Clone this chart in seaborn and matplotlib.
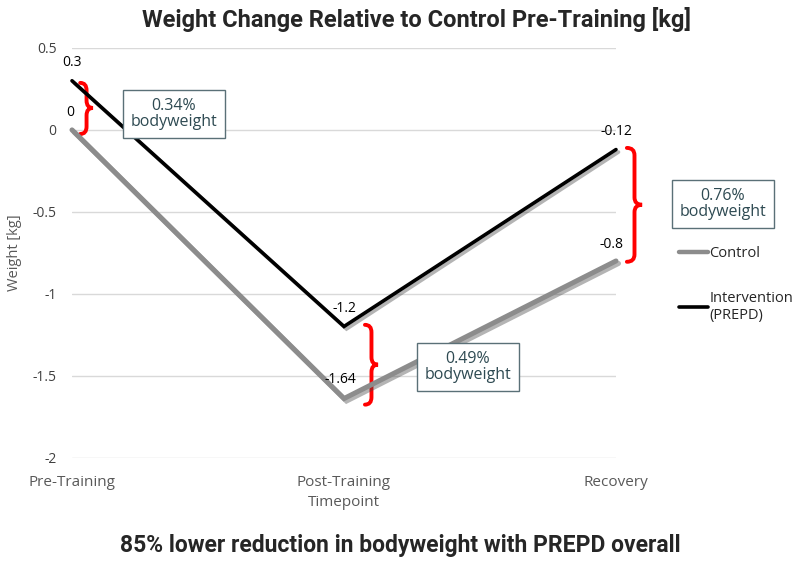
import matplotlib
matplotlib.use("Agg")
import matplotlib.pyplot as plt
import matplotlib.patheffects as pe
from matplotlib.path import Path
from matplotlib.patches import PathPatch
from matplotlib.lines import Line2D
import pandas as pd
import seaborn as sns

# data
timepoints = ['Pre-Training', 'Post-Training', 'Recovery']
control = [0, -1.64, -0.8]
intervention = [0.3, -1.2, -0.12]
groups = ['Control', 'Intervention\n(PREPD)']
box_texts = ['0.34%\nbodyweight', '0.49%\nbodyweight', '0.76%\nbodyweight']

df = pd.DataFrame({
    'Timepoint': timepoints * 2,
    'Weight': control + intervention,
    'group': [groups[0]] * 3 + [groups[1]] * 3,
})

sns.set_style('white')
plt.rcParams['font.family'] = ['Open Sans', 'DejaVu Sans']

fig = plt.figure(figsize=(8, 5.62), dpi=100)
ax = fig.add_axes([0.09, 0.185, 0.68, 0.7296])

shadow = [pe.SimpleLineShadow(offset=(1.8, -1.8), shadow_color='#444444', alpha=0.4), pe.Normal()]
sns.lineplot(data=df, x='Timepoint', y='Weight', hue='group', palette=['#8c8c8c', '#000000'],
             ax=ax, legend=False, sort=False)
ax.lines[0].set_linewidth(3.6)
ax.lines[1].set_linewidth(2.6)
for ln in ax.lines:
    ln.set_path_effects(shadow)
    ln.set_solid_joinstyle('miter')
    ln.set_clip_on(False)

ax.set_xlim(0, 2)
ax.set_ylim(-2.003, 0.5)
ax.set_yticks([0.5, 0, -0.5, -1, -1.5, -2])
ax.set_yticklabels(['0.5', '0', '-0.5', '-1', '-1.5', '-2'])
ax.yaxis.grid(True, color='#d9d9d9', linewidth=1)
ax.xaxis.grid(False)
for s in ax.spines.values():
    s.set_visible(False)
ax.tick_params(axis='y', length=0, pad=11, labelsize=10, labelcolor='#404040')
ax.tick_params(axis='x', length=0, pad=12, labelsize=11, labelcolor='#595959')
ax.set_ylabel('Weight [kg]', fontsize=10.5, color='#595959', labelpad=8)
ax.set_xlabel('Timepoint', fontsize=11, color='#595959', labelpad=4)

# data labels
for i, v in enumerate(intervention):
    ax.annotate(f'{v:g}', (i, v), xytext=(0, 18), textcoords='offset pixels',
                ha='center', va='center', fontsize=10, color='#000000', annotation_clip=False)
ctrl_off = [(-2, 17), (-4, 19), (-4, 16)]
for i, v in enumerate(control):
    ax.annotate(f'{v:g}', (i, v), xytext=ctrl_off[i], textcoords='offset pixels',
                ha='center', va='center', fontsize=10, color='#000000', annotation_clip=False)


def brace(x0, x1, ytop, ybot, ymid, r=0.045):
    xm = (x0 + x1) / 2
    verts = [(x0, ytop), (xm, ytop), (xm, ytop - r),
             (xm, ymid + r), (xm, ymid), (x1, ymid),
             (xm, ymid), (xm, ymid - r),
             (xm, ybot + r), (xm, ybot), (x0, ybot)]
    codes = [Path.MOVETO, Path.CURVE3, Path.CURVE3,
             Path.LINETO, Path.CURVE3, Path.CURVE3,
             Path.CURVE3, Path.CURVE3,
             Path.LINETO, Path.CURVE3, Path.CURVE3]
    ax.add_patch(PathPatch(Path(verts, codes), fill=False, edgecolor='#ff0000',
                           linewidth=2.8, clip_on=False, capstyle='round'))


brace(0.03, 0.077, 0.287, -0.025, 0.134)
brace(1.077, 1.125, -1.19, -1.677, -1.433)
brace(2.04, 2.096, -0.11, -0.805, -0.457)

box_pos = [(0.375, 0.095), (1.456, -1.445), (2.393, -0.451)]
for (bx, by), t in zip(box_pos, box_texts):
    ax.text(bx, by, t, ha='center', va='center', fontsize=11.5, color='#2e4a52',
            linespacing=1.0, clip_on=False,
            bbox=dict(boxstyle='square,pad=0.5', facecolor='white', edgecolor='#5a7077', linewidth=1))

handles = [Line2D([], [], color='#8c8c8c', linewidth=3.2), Line2D([], [], color='#000000', linewidth=2.6)]
fig.legend(handles, groups, loc='upper left', bbox_to_anchor=(0.832, 0.585), frameon=False,
           fontsize=10.5, handlelength=2.0, handletextpad=0.1, labelspacing=2.0,
           labelcolor='#262626')

fig.text(0.52, 0.966, 'Weight Change Relative to Control Pre-Training [kg]', ha='center', va='center',
         fontsize=17, fontweight='bold', family=['Roboto', 'DejaVu Sans'])
fig.text(0.5, 0.03, '85% lower reduction in bodyweight with PREPD overall', ha='center', va='center',
         fontsize=16.5, fontweight='bold', family=['Roboto', 'DejaVu Sans'])

fig.savefig('out.png', dpi=100)
